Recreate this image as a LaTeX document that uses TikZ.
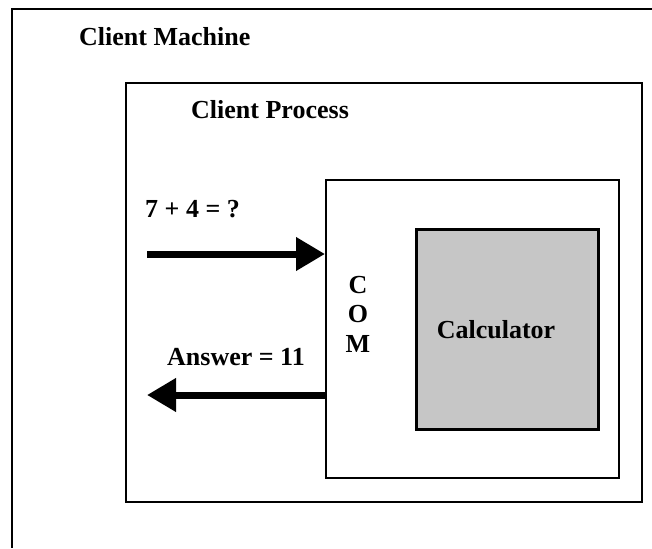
\documentclass[tikz,border=0pt]{standalone}
\usepackage{fontspec}
\setmainfont{Liberation Serif}
\usetikzlibrary{arrows.meta}
\begin{document}
\begin{tikzpicture}[x=1pt,y=-1pt,
  lbl/.style={font=\fontsize{26}{30}\selectfont\bfseries, inner sep=0pt},
  boxline/.style={draw=black, line width=2pt},
  bigarrow/.style={line width=7pt, -{Triangle[length=29pt,width=32pt]}}]
\useasboundingbox (0,0) rectangle (652,548);
% outer machine frame (open at right and bottom)
\coordinate (mTR) at (652,9);
\coordinate (mTL) at (12,9);
\coordinate (mBL) at (12,548);
\draw[line width=2pt] (mTR) -- (mTL) -- (mBL);
% client process box
\node[boxline, minimum width=516pt, minimum height=419pt, anchor=north west, inner sep=0pt] (proc) at (125,82) {};
% COM box
\node[boxline, minimum width=293pt, minimum height=298pt, anchor=north west, inner sep=0pt] (com) at (325,179) {};
% calculator
\node[boxline, line width=2.5pt, fill=gray!45, minimum width=182pt, minimum height=200pt, anchor=north west, inner sep=0pt] (calc) at (415,228) {};
% labels
\node[lbl, anchor=base west] (machine) at (79,46) {Client Machine};
\node[lbl, anchor=base west] (process) at (191,119) {Client Process};
\node[lbl, anchor=base west] (query) at (145,217) {7 + 4 = ?};
\node[lbl, anchor=base west] (answer) at (167,365) {Answer = 11};
\node[lbl, anchor=base] (calctext) at (496,338) {Calculator};
\node[lbl, anchor=base] (comC) at (358,293) {C};
\node[lbl, anchor=base] (comO) at (358,322) {O};
\node[lbl, anchor=base] (comM) at (358,352) {M};
% arrows
\coordinate (inStart) at (147,254);
\coordinate (outEnd) at (147,395);
\draw[bigarrow] (inStart) -- (inStart -| com.west);
\draw[bigarrow] (outEnd -| com.west) -- (outEnd);
\end{tikzpicture}
\end{document}
